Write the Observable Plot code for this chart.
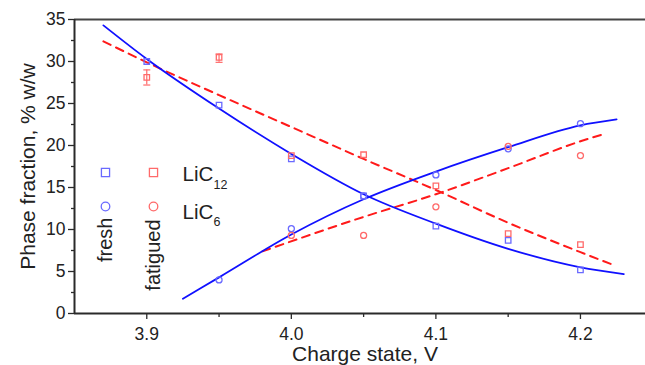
<!DOCTYPE html>
<html>
<head>
<meta charset="utf-8">
<script src="https://cdn.jsdelivr.net/npm/d3@7"></script>
<script src="https://cdn.jsdelivr.net/npm/@observablehq/plot@0.6"></script>
<style>
  html, body { margin: 0; padding: 0; background: #fff; }
  #chart svg { display: block; }
</style>
</head>
<body>
<div id="chart"></div>
<script>
// ---- data ----
const voltage = [3.90, 3.95, 4.00, 4.05, 4.10, 4.15, 4.20];
const freshLiC12 = [30.0, 24.8, 18.4, 14.0, 10.4, 8.7, 5.2];
const fatiguedLiC12 = [28.1, 30.5, 18.8, 18.9, 15.2, 9.5, 8.2];
const voltageFreshLiC6 = [3.95, 4.00, 4.05, 4.10, 4.15, 4.20];
const freshLiC6 = [4.0, 10.1, 14.0, 16.5, 19.6, 22.6];
const voltageFatiguedLiC6 = [4.00, 4.05, 4.10, 4.15, 4.20];
const fatiguedLiC6 = [9.3, 9.3, 12.7, 19.9, 18.8];

// error bars (fatigued LiC12)
const errVoltage = [3.90, 3.95];
const errLow = [27.2, 29.9];
const errHigh = [29.0, 30.9];

// fitted curves
const fitFreshLiC12X = [3.870, 3.900, 3.950, 4.000, 4.050, 4.100, 4.150, 4.200, 4.230];
const fitFreshLiC12Y = [34.3, 30.3, 24.4, 19.0, 14.2, 10.7, 7.7, 5.5, 4.7];
const fitFreshLiC6X = [3.925, 3.950, 4.000, 4.050, 4.100, 4.150, 4.200, 4.225];
const fitFreshLiC6Y = [1.75, 4.3, 9.4, 13.6, 16.9, 19.8, 22.4, 23.1];
const fitFatLiC12X = [3.870, 3.900, 3.950, 4.000, 4.050, 4.100, 4.150, 4.200, 4.221];
const fitFatLiC12Y = [32.4, 29.9, 26.0, 22.2, 18.4, 14.7, 10.8, 7.3, 5.9];
const fitFatLiC6X = [3.980, 4.050, 4.100, 4.150, 4.200, 4.215];
const fitFatLiC6Y = [7.4, 11.5, 14.2, 17.3, 20.5, 21.3];

const yTicks = [0, 5, 10, 15, 20, 25, 30, 35];
const yMinorTicks = [2.5, 7.5, 12.5, 17.5, 22.5, 27.5, 32.5];
const xTicks = [3.9, 4.0, 4.1, 4.2];
const xMinorTicks = [3.95, 4.05, 4.15];

// ---- styles ----
const blueLine = "#1010ff", redLine = "#ff1a1a";
const blueMark = "#6a6aff", redMark = "#ff6a6a";
const axisColor = "#2a2a2a";
const font = "'Liberation Sans', Arial, sans-serif";

const zip = (xs, ys, extra) => xs.map((x, i) => ({x, y: ys[i], ...extra}));
const points = [
  ...zip(voltage, freshLiC12, {s: "fresh LiC12"}),
  ...zip(voltage, fatiguedLiC12, {s: "fatigued LiC12"}),
  ...zip(voltageFreshLiC6, freshLiC6, {s: "fresh LiC6"}),
  ...zip(voltageFatiguedLiC6, fatiguedLiC6, {s: "fatigued LiC6"})
];
const errs = errVoltage.map((v, i) => ({x: v, lo: errLow[i], hi: errHigh[i]}));

const hbar = { draw(ctx, size) { const w = 3.5; ctx.moveTo(-w, 0); ctx.lineTo(w, 0); } };

const sq = d => d.s.endsWith("LiC12");
const isBlue = d => d.s.startsWith("fresh");

const chart = Plot.plot({
  width: 645,
  height: 365,
  marginLeft: 74,
  marginRight: 0,
  marginTop: 19,
  marginBottom: 52,
  style: {fontFamily: font, fontSize: "17px", color: "#222", background: "#fff"},
  x: {domain: [3.85, 4.245]},
  y: {domain: [0, 35]},
  marks: [
    // axes
    Plot.axisY({ticks: yTicks, tickSize: 6, tickPadding: 3, label: null, stroke: axisColor, strokeWidth: 1.3, fontSize: 17.5, fill: "#222"}),
    Plot.axisY({ticks: yMinorTicks, tickSize: 3, tickFormat: () => "", label: null, stroke: axisColor, strokeWidth: 1.3}),
    Plot.axisX({ticks: xTicks, tickSize: 6, tickPadding: 8, tickFormat: d3.format(".1f"), label: null, stroke: axisColor, strokeWidth: 1.3, fontSize: 17.5, fill: "#222"}),
    Plot.axisX({ticks: xMinorTicks, tickSize: 4, tickFormat: () => "", label: null, stroke: axisColor, strokeWidth: 1.3}),
    Plot.ruleY([0], {stroke: axisColor, strokeWidth: 2}),
    Plot.ruleY([35], {stroke: "#444", strokeWidth: 2}),
    Plot.ruleX([3.85], {stroke: axisColor, strokeWidth: 2}),
    // axis titles
    Plot.text(["Charge state, V"], {frameAnchor: "bottom", dx: 5, dy: 41, fontSize: 21, lineAnchor: "middle", fill: "#222"}),
    Plot.text(["Phase fraction, % w/w"], {frameAnchor: "left", dx: -46, rotate: -90, textAnchor: "middle", fontSize: 21, lineAnchor: "middle", fill: "#222"}),
    // fitted curves
    Plot.line(zip(fitFatLiC12X, fitFatLiC12Y), {x: "x", y: "y", curve: "monotone-x", stroke: redLine, strokeWidth: 2, strokeDasharray: "8,6"}),
    Plot.line(zip(fitFatLiC6X, fitFatLiC6Y), {x: "x", y: "y", curve: "monotone-x", stroke: redLine, strokeWidth: 2, strokeDasharray: "8,6"}),
    Plot.line(zip(fitFreshLiC12X, fitFreshLiC12Y), {x: "x", y: "y", curve: "monotone-x", stroke: blueLine, strokeWidth: 1.8}),
    Plot.line(zip(fitFreshLiC6X, fitFreshLiC6Y), {x: "x", y: "y", curve: "monotone-x", stroke: blueLine, strokeWidth: 1.8}),
    // error bars
    Plot.ruleX(errs, {x: "x", y1: "lo", y2: "hi", stroke: redMark, strokeWidth: 1.2}),
    Plot.dot(errs, {x: "x", y: "lo", symbol: hbar, stroke: redMark, strokeWidth: 1.2}),
    Plot.dot(errs, {x: "x", y: "hi", symbol: hbar, stroke: redMark, strokeWidth: 1.2}),
    // markers
    Plot.dot(points, {x: "x", y: "y", symbol: d => sq(d) ? "square" : "circle",
      r: d => sq(d) ? 4.6 : 4.3, stroke: d => isBlue(d) ? blueMark : redMark, fill: "white", fillOpacity: 0, strokeWidth: 1.3}),
    // legend
    Plot.dot([0], {frameAnchor: "top-left", dx: 31, dy: 153, symbol: "square", r: 4.6, stroke: blueMark, strokeWidth: 1.3}),
    Plot.dot([0], {frameAnchor: "top-left", dx: 79, dy: 153, symbol: "square", r: 4.6, stroke: redMark, strokeWidth: 1.3}),
    Plot.dot([0], {frameAnchor: "top-left", dx: 31, dy: 187, symbol: "circle", r: 4.3, stroke: blueMark, strokeWidth: 1.3}),
    Plot.dot([0], {frameAnchor: "top-left", dx: 79, dy: 187, symbol: "circle", r: 4.3, stroke: redMark, strokeWidth: 1.3}),
    Plot.text(["LiC"], {frameAnchor: "top-left", dx: 108, dy: 161, textAnchor: "start", lineAnchor: "bottom", fontSize: 20.5, fill: "#222"}),
    Plot.text(["12"], {frameAnchor: "top-left", dx: 139, dy: 169, textAnchor: "start", lineAnchor: "bottom", fontSize: 12.5, fill: "#222"}),
    Plot.text(["LiC"], {frameAnchor: "top-left", dx: 108, dy: 199, textAnchor: "start", lineAnchor: "bottom", fontSize: 20.5, fill: "#222"}),
    Plot.text(["6"], {frameAnchor: "top-left", dx: 139, dy: 206, textAnchor: "start", lineAnchor: "bottom", fontSize: 12.5, fill: "#222"}),
    Plot.text(["fresh"], {frameAnchor: "top-left", dx: 31, dy: 198, rotate: -90, textAnchor: "end", lineAnchor: "middle", fontSize: 20, fill: "#222"}),
    Plot.text(["fatigued"], {frameAnchor: "top-left", dx: 79, dy: 200, rotate: -90, textAnchor: "end", lineAnchor: "middle", fontSize: 20, fill: "#222"})
  ]
});
document.getElementById("chart").appendChild(chart);
</script>
</body>
</html>
